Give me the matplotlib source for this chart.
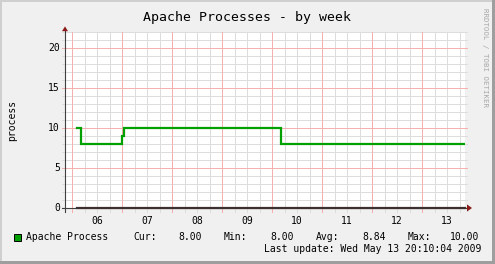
import numpy as np
import matplotlib.pyplot as plt
from matplotlib.patches import Rectangle, Polygon

W, H = 495, 264

# data: days since May 05 00:00
t = [0.10, 0.18, 1.00, 1.04, 4.18, 7.86]
procs = [10, 8, 9, 10, 8, 8]
day_labels = ["06", "07", "08", "09", "10", "11", "12", "13"]
y_labels = [0, 5, 10, 15, 20]
title = "Apache Processes - by week"
legend_name = "Apache Process"
stats = [("Cur:", "8.00"), ("Min:", "8.00"), ("Avg:", "8.84"), ("Max:", "10.00")]
last_update = "Last update: Wed May 13 20:10:04 2009"

x0, x1 = -0.14, 7.86
y0, y1 = 0, 22

mono = "DejaVu Sans Mono"
bg = "#F0F0F0"
minor_c = "#DDDDDD"
major_c = "#F7B0B0"
green = "#00A000"


def fx(px):
    return px / W


def fy(py):
    return 1 - py / H


fig = plt.figure(figsize=(W / 100, H / 100), dpi=100, facecolor=bg)

# border shading
fig.patches.append(Rectangle((0, fy(2)), 1, 2 / H, transform=fig.transFigure, fc="#CFCFCF", ec="none"))
fig.patches.append(Rectangle((0, 0), 2 / W, 1, transform=fig.transFigure, fc="#CFCFCF", ec="none"))
fig.patches.append(Rectangle((fx(W - 3), 0), 3 / W, 1, transform=fig.transFigure, fc="#9E9E9E", ec="none"))
fig.patches.append(Rectangle((0, 0), 1, 3 / H, transform=fig.transFigure, fc="#9E9E9E", ec="none"))

ax = fig.add_axes([fx(65), fy(208), fx(465) - fx(65), fy(32) - fy(208)])
ax.set_facecolor("white")
ax.set_xlim(x0, x1)
ax.set_ylim(y0, y1)
for s in ax.spines.values():
    s.set_visible(False)
ax.set_xticks([])
ax.set_yticks([])

ext_x = 3 / 50.0   # 3 px in days
ext_y = 4 / 8.0    # 4 px in units

# vertical grid
for v in np.arange(0.0, x1, 0.25):
    major = abs(v - round(v)) < 1e-6
    ax.plot([v, v], [-ext_y, y1], color=major_c if major else minor_c,
            lw=0.72, antialiased=False, clip_on=False, zorder=1 if major else 0.5)

# horizontal grid
for h in range(0, 23):
    major = h % 5 == 0
    ax.plot([x0 - ext_x, x1 + 0.04], [h, h], color=major_c if major else minor_c,
            lw=0.72, antialiased=False, clip_on=False, zorder=1 if major else 0.5)

# data
ax.step(t, procs, where="post", color=green, lw=1.6, zorder=3,
        solid_joinstyle="miter")

# axes lines
ax.plot([x0 - ext_x, x1 + 0.04], [0, 0], color="#404040", lw=0.8, clip_on=False, zorder=4)
ax.plot([t[0], x1], [0, 0], color="#3c3030", lw=1.6, clip_on=False, zorder=4)
ax.plot([x0, x0], [-ext_y, y1 + 0.2], color="#404040", lw=0.8, clip_on=False, zorder=4)

# arrows
ax.add_patch(Polygon([[x1 + 0.04, 0.45], [x1 + 0.04, -0.45], [x1 + 0.14, 0]],
                     closed=True, fc="#8B1A1A", ec="none", clip_on=False, zorder=5))
ax.add_patch(Polygon([[x0 - 0.06, y1 + 0.1], [x0 + 0.06, y1 + 0.1], [x0, y1 + 0.7]],
                     closed=True, fc="#8B1A1A", ec="none", clip_on=False, zorder=5))

# tick labels
for i, lab in enumerate(day_labels):
    ax.text(i + 0.5, -1.0, lab, family=mono, fontsize=7, ha="center", va="top", color="#000000")
for v in y_labels:
    ax.text(x0 - 0.1, v, str(v), family=mono, fontsize=7, ha="right", va="center", color="#000000")

# texts
fig.text(fx(247), fy(17), title, family=mono, fontsize=9.5, ha="center", va="center")
fig.text(fx(12), fy(120), "process", family=mono, fontsize=7, rotation=90,
         ha="center", va="center")
fig.text(fx(485), fy(8), "RRDTOOL / TOBI OETIKER", family=mono, fontsize=5.3,
         rotation=270, ha="center", va="top", color="#A8A8A8")

fig.patches.append(Rectangle((fx(14), fy(241)), 7 / W, 7 / H, transform=fig.transFigure,
                             fc=green, ec="black", lw=0.7))
fig.text(fx(26), fy(237), legend_name, family=mono, fontsize=7, ha="left", va="center")
lab_x = [133, 224, 316, 408]
val_r = [202, 294, 386, 479]
for (k, v), lx, vr in zip(stats, lab_x, val_r):
    fig.text(fx(lx), fy(237), k, family=mono, fontsize=7, ha="left", va="center")
    fig.text(fx(vr), fy(237), v, family=mono, fontsize=7, ha="right", va="center")
fig.text(fx(481), fy(249), last_update, family=mono, fontsize=7, ha="right", va="center")

fig.savefig("out.png", dpi=100, facecolor=bg)
